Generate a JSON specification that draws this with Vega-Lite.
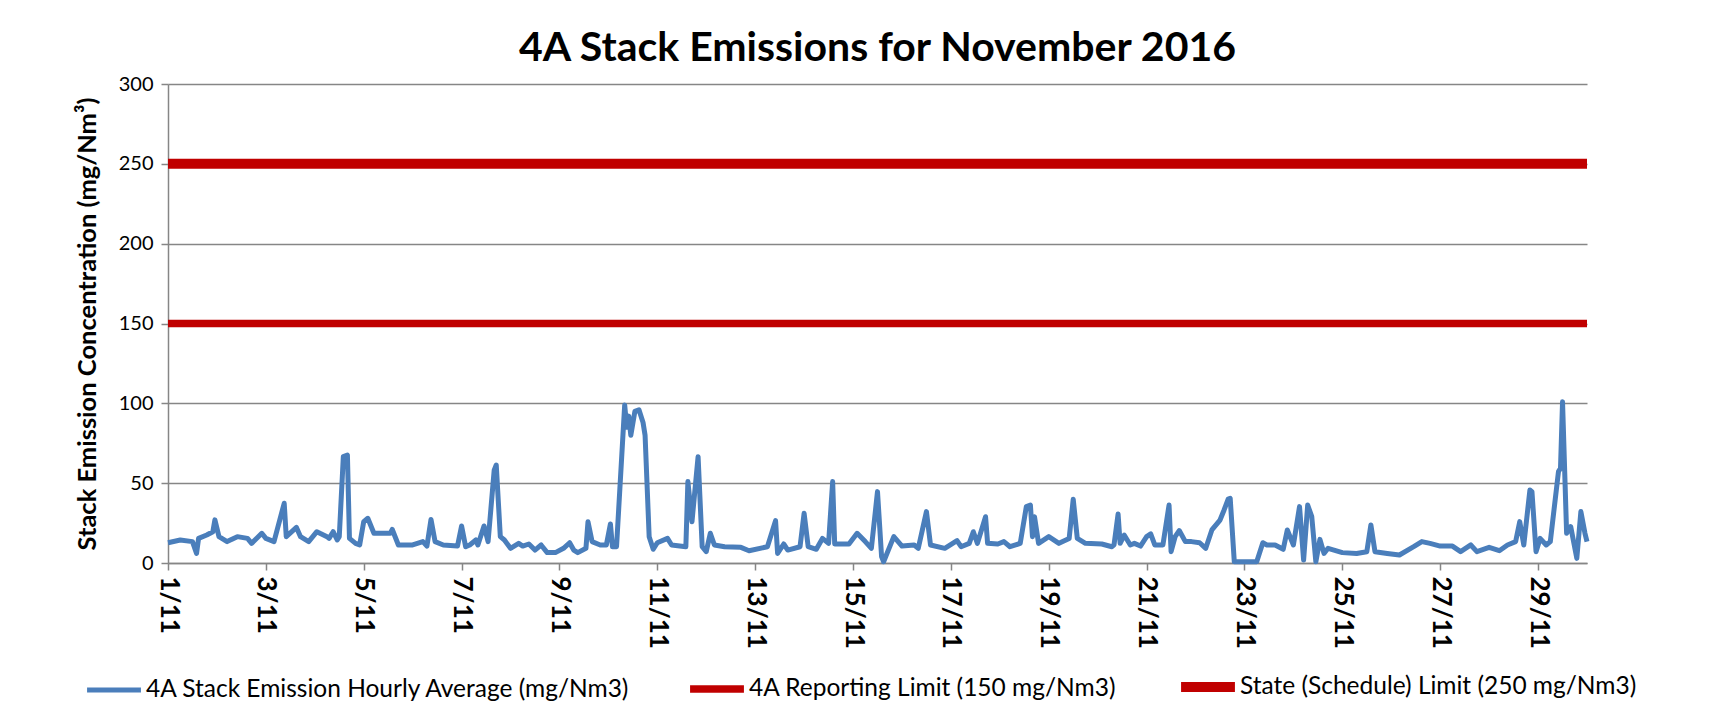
{
  "$schema": "https://vega.github.io/schema/vega-lite/v6.json",
  "width": 1419,
  "height": 479,
  "autosize": {"type": "none"},
  "padding": {"left": 168, "top": 84, "right": 143, "bottom": 150},
  "background": "white",
  "config": {
    "font": "Lato",
    "view": {"stroke": null},
    "axis": {"labelColor": "#000000", "titleColor": "#000000"}
  },
  "title": {
    "text": "4A Stack Emissions for November 2016",
    "font": "Lato",
    "fontSize": 41,
    "fontWeight": "bold",
    "color": "#000000",
    "anchor": "middle",
    "offset": 4
  },
  "data": {
    "values": [
      {"t": "2016-11-01T00:00", "v": 12.7, "series": "4A Stack Emission Hourly Average (mg/Nm3)"},
      {"t": "2016-11-01T06:00", "v": 14.4, "series": "4A Stack Emission Hourly Average (mg/Nm3)"},
      {"t": "2016-11-01T12:00", "v": 13.4, "series": "4A Stack Emission Hourly Average (mg/Nm3)"},
      {"t": "2016-11-01T14:00", "v": 6, "series": "4A Stack Emission Hourly Average (mg/Nm3)"},
      {"t": "2016-11-01T15:00", "v": 15.4, "series": "4A Stack Emission Hourly Average (mg/Nm3)"},
      {"t": "2016-11-01T19:00", "v": 17.5, "series": "4A Stack Emission Hourly Average (mg/Nm3)"},
      {"t": "2016-11-01T22:00", "v": 19.6, "series": "4A Stack Emission Hourly Average (mg/Nm3)"},
      {"t": "2016-11-01T23:00", "v": 27, "series": "4A Stack Emission Hourly Average (mg/Nm3)"},
      {"t": "2016-11-02T01:00", "v": 16.5, "series": "4A Stack Emission Hourly Average (mg/Nm3)"},
      {"t": "2016-11-02T05:00", "v": 13.4, "series": "4A Stack Emission Hourly Average (mg/Nm3)"},
      {"t": "2016-11-02T10:00", "v": 16.5, "series": "4A Stack Emission Hourly Average (mg/Nm3)"},
      {"t": "2016-11-02T15:00", "v": 15.4, "series": "4A Stack Emission Hourly Average (mg/Nm3)"},
      {"t": "2016-11-02T17:00", "v": 12.3, "series": "4A Stack Emission Hourly Average (mg/Nm3)"},
      {"t": "2016-11-02T22:00", "v": 18.6, "series": "4A Stack Emission Hourly Average (mg/Nm3)"},
      {"t": "2016-11-03T00:00", "v": 15.4, "series": "4A Stack Emission Hourly Average (mg/Nm3)"},
      {"t": "2016-11-03T04:00", "v": 13.4, "series": "4A Stack Emission Hourly Average (mg/Nm3)"},
      {"t": "2016-11-03T09:00", "v": 37.4, "series": "4A Stack Emission Hourly Average (mg/Nm3)"},
      {"t": "2016-11-03T10:00", "v": 16.5, "series": "4A Stack Emission Hourly Average (mg/Nm3)"},
      {"t": "2016-11-03T15:00", "v": 22.3, "series": "4A Stack Emission Hourly Average (mg/Nm3)"},
      {"t": "2016-11-03T17:00", "v": 16.5, "series": "4A Stack Emission Hourly Average (mg/Nm3)"},
      {"t": "2016-11-03T21:00", "v": 13.4, "series": "4A Stack Emission Hourly Average (mg/Nm3)"},
      {"t": "2016-11-04T01:00", "v": 19.6, "series": "4A Stack Emission Hourly Average (mg/Nm3)"},
      {"t": "2016-11-04T06:00", "v": 16.5, "series": "4A Stack Emission Hourly Average (mg/Nm3)"},
      {"t": "2016-11-04T07:00", "v": 15.4, "series": "4A Stack Emission Hourly Average (mg/Nm3)"},
      {"t": "2016-11-04T09:00", "v": 19.6, "series": "4A Stack Emission Hourly Average (mg/Nm3)"},
      {"t": "2016-11-04T11:00", "v": 14.4, "series": "4A Stack Emission Hourly Average (mg/Nm3)"},
      {"t": "2016-11-04T12:00", "v": 16.5, "series": "4A Stack Emission Hourly Average (mg/Nm3)"},
      {"t": "2016-11-04T14:00", "v": 66.6, "series": "4A Stack Emission Hourly Average (mg/Nm3)"},
      {"t": "2016-11-04T16:00", "v": 67.6, "series": "4A Stack Emission Hourly Average (mg/Nm3)"},
      {"t": "2016-11-04T17:00", "v": 15.4, "series": "4A Stack Emission Hourly Average (mg/Nm3)"},
      {"t": "2016-11-04T20:00", "v": 12.3, "series": "4A Stack Emission Hourly Average (mg/Nm3)"},
      {"t": "2016-11-04T22:00", "v": 11.3, "series": "4A Stack Emission Hourly Average (mg/Nm3)"},
      {"t": "2016-11-05T00:00", "v": 25.9, "series": "4A Stack Emission Hourly Average (mg/Nm3)"},
      {"t": "2016-11-05T02:00", "v": 28, "series": "4A Stack Emission Hourly Average (mg/Nm3)"},
      {"t": "2016-11-05T05:00", "v": 18.6, "series": "4A Stack Emission Hourly Average (mg/Nm3)"},
      {"t": "2016-11-05T13:00", "v": 18.6, "series": "4A Stack Emission Hourly Average (mg/Nm3)"},
      {"t": "2016-11-05T14:00", "v": 21, "series": "4A Stack Emission Hourly Average (mg/Nm3)"},
      {"t": "2016-11-05T17:00", "v": 11.3, "series": "4A Stack Emission Hourly Average (mg/Nm3)"},
      {"t": "2016-11-06T00:00", "v": 11.3, "series": "4A Stack Emission Hourly Average (mg/Nm3)"},
      {"t": "2016-11-06T05:00", "v": 13.4, "series": "4A Stack Emission Hourly Average (mg/Nm3)"},
      {"t": "2016-11-06T07:00", "v": 10.6, "series": "4A Stack Emission Hourly Average (mg/Nm3)"},
      {"t": "2016-11-06T09:00", "v": 27.3, "series": "4A Stack Emission Hourly Average (mg/Nm3)"},
      {"t": "2016-11-06T11:00", "v": 13.4, "series": "4A Stack Emission Hourly Average (mg/Nm3)"},
      {"t": "2016-11-06T15:00", "v": 11.3, "series": "4A Stack Emission Hourly Average (mg/Nm3)"},
      {"t": "2016-11-06T22:00", "v": 10.6, "series": "4A Stack Emission Hourly Average (mg/Nm3)"},
      {"t": "2016-11-07T00:00", "v": 23.2, "series": "4A Stack Emission Hourly Average (mg/Nm3)"},
      {"t": "2016-11-07T02:00", "v": 10.2, "series": "4A Stack Emission Hourly Average (mg/Nm3)"},
      {"t": "2016-11-07T04:00", "v": 11.3, "series": "4A Stack Emission Hourly Average (mg/Nm3)"},
      {"t": "2016-11-07T07:00", "v": 14.4, "series": "4A Stack Emission Hourly Average (mg/Nm3)"},
      {"t": "2016-11-07T08:00", "v": 11.3, "series": "4A Stack Emission Hourly Average (mg/Nm3)"},
      {"t": "2016-11-07T11:00", "v": 23.2, "series": "4A Stack Emission Hourly Average (mg/Nm3)"},
      {"t": "2016-11-07T13:00", "v": 13.4, "series": "4A Stack Emission Hourly Average (mg/Nm3)"},
      {"t": "2016-11-07T16:00", "v": 58.2, "series": "4A Stack Emission Hourly Average (mg/Nm3)"},
      {"t": "2016-11-07T17:00", "v": 61.4, "series": "4A Stack Emission Hourly Average (mg/Nm3)"},
      {"t": "2016-11-07T19:00", "v": 16.5, "series": "4A Stack Emission Hourly Average (mg/Nm3)"},
      {"t": "2016-11-07T21:00", "v": 14.4, "series": "4A Stack Emission Hourly Average (mg/Nm3)"},
      {"t": "2016-11-08T00:00", "v": 9.2, "series": "4A Stack Emission Hourly Average (mg/Nm3)"},
      {"t": "2016-11-08T04:00", "v": 12.3, "series": "4A Stack Emission Hourly Average (mg/Nm3)"},
      {"t": "2016-11-08T06:00", "v": 10.6, "series": "4A Stack Emission Hourly Average (mg/Nm3)"},
      {"t": "2016-11-08T09:00", "v": 11.9, "series": "4A Stack Emission Hourly Average (mg/Nm3)"},
      {"t": "2016-11-08T12:00", "v": 8.1, "series": "4A Stack Emission Hourly Average (mg/Nm3)"},
      {"t": "2016-11-08T15:00", "v": 11.3, "series": "4A Stack Emission Hourly Average (mg/Nm3)"},
      {"t": "2016-11-08T18:00", "v": 6.5, "series": "4A Stack Emission Hourly Average (mg/Nm3)"},
      {"t": "2016-11-08T22:00", "v": 6.5, "series": "4A Stack Emission Hourly Average (mg/Nm3)"},
      {"t": "2016-11-09T02:00", "v": 9.2, "series": "4A Stack Emission Hourly Average (mg/Nm3)"},
      {"t": "2016-11-09T05:00", "v": 12.7, "series": "4A Stack Emission Hourly Average (mg/Nm3)"},
      {"t": "2016-11-09T07:00", "v": 8.1, "series": "4A Stack Emission Hourly Average (mg/Nm3)"},
      {"t": "2016-11-09T09:00", "v": 6.5, "series": "4A Stack Emission Hourly Average (mg/Nm3)"},
      {"t": "2016-11-09T13:00", "v": 9.2, "series": "4A Stack Emission Hourly Average (mg/Nm3)"},
      {"t": "2016-11-09T14:00", "v": 25.9, "series": "4A Stack Emission Hourly Average (mg/Nm3)"},
      {"t": "2016-11-09T16:00", "v": 13.4, "series": "4A Stack Emission Hourly Average (mg/Nm3)"},
      {"t": "2016-11-09T20:00", "v": 11.3, "series": "4A Stack Emission Hourly Average (mg/Nm3)"},
      {"t": "2016-11-09T23:00", "v": 11.3, "series": "4A Stack Emission Hourly Average (mg/Nm3)"},
      {"t": "2016-11-10T01:00", "v": 24.4, "series": "4A Stack Emission Hourly Average (mg/Nm3)"},
      {"t": "2016-11-10T02:00", "v": 10.2, "series": "4A Stack Emission Hourly Average (mg/Nm3)"},
      {"t": "2016-11-10T04:00", "v": 10.2, "series": "4A Stack Emission Hourly Average (mg/Nm3)"},
      {"t": "2016-11-10T08:00", "v": 99, "series": "4A Stack Emission Hourly Average (mg/Nm3)"},
      {"t": "2016-11-10T09:00", "v": 85, "series": "4A Stack Emission Hourly Average (mg/Nm3)"},
      {"t": "2016-11-10T10:00", "v": 92, "series": "4A Stack Emission Hourly Average (mg/Nm3)"},
      {"t": "2016-11-10T11:00", "v": 80, "series": "4A Stack Emission Hourly Average (mg/Nm3)"},
      {"t": "2016-11-10T13:00", "v": 95, "series": "4A Stack Emission Hourly Average (mg/Nm3)"},
      {"t": "2016-11-10T15:00", "v": 96, "series": "4A Stack Emission Hourly Average (mg/Nm3)"},
      {"t": "2016-11-10T17:00", "v": 88, "series": "4A Stack Emission Hourly Average (mg/Nm3)"},
      {"t": "2016-11-10T18:00", "v": 80, "series": "4A Stack Emission Hourly Average (mg/Nm3)"},
      {"t": "2016-11-10T20:00", "v": 16.5, "series": "4A Stack Emission Hourly Average (mg/Nm3)"},
      {"t": "2016-11-10T22:00", "v": 8.6, "series": "4A Stack Emission Hourly Average (mg/Nm3)"},
      {"t": "2016-11-11T00:00", "v": 12.7, "series": "4A Stack Emission Hourly Average (mg/Nm3)"},
      {"t": "2016-11-11T05:00", "v": 15.4, "series": "4A Stack Emission Hourly Average (mg/Nm3)"},
      {"t": "2016-11-11T07:00", "v": 11.3, "series": "4A Stack Emission Hourly Average (mg/Nm3)"},
      {"t": "2016-11-11T14:00", "v": 10.2, "series": "4A Stack Emission Hourly Average (mg/Nm3)"},
      {"t": "2016-11-11T15:00", "v": 51, "series": "4A Stack Emission Hourly Average (mg/Nm3)"},
      {"t": "2016-11-11T17:00", "v": 25.9, "series": "4A Stack Emission Hourly Average (mg/Nm3)"},
      {"t": "2016-11-11T20:00", "v": 66.6, "series": "4A Stack Emission Hourly Average (mg/Nm3)"},
      {"t": "2016-11-11T22:00", "v": 10.2, "series": "4A Stack Emission Hourly Average (mg/Nm3)"},
      {"t": "2016-11-12T00:00", "v": 7.1, "series": "4A Stack Emission Hourly Average (mg/Nm3)"},
      {"t": "2016-11-12T02:00", "v": 18.6, "series": "4A Stack Emission Hourly Average (mg/Nm3)"},
      {"t": "2016-11-12T04:00", "v": 11.3, "series": "4A Stack Emission Hourly Average (mg/Nm3)"},
      {"t": "2016-11-12T09:00", "v": 10.2, "series": "4A Stack Emission Hourly Average (mg/Nm3)"},
      {"t": "2016-11-12T17:00", "v": 9.8, "series": "4A Stack Emission Hourly Average (mg/Nm3)"},
      {"t": "2016-11-12T21:00", "v": 7.7, "series": "4A Stack Emission Hourly Average (mg/Nm3)"},
      {"t": "2016-11-13T06:00", "v": 10.2, "series": "4A Stack Emission Hourly Average (mg/Nm3)"},
      {"t": "2016-11-13T10:00", "v": 26.5, "series": "4A Stack Emission Hourly Average (mg/Nm3)"},
      {"t": "2016-11-13T11:00", "v": 6, "series": "4A Stack Emission Hourly Average (mg/Nm3)"},
      {"t": "2016-11-13T14:00", "v": 11.9, "series": "4A Stack Emission Hourly Average (mg/Nm3)"},
      {"t": "2016-11-13T16:00", "v": 8.1, "series": "4A Stack Emission Hourly Average (mg/Nm3)"},
      {"t": "2016-11-13T22:00", "v": 10.2, "series": "4A Stack Emission Hourly Average (mg/Nm3)"},
      {"t": "2016-11-14T00:00", "v": 31.1, "series": "4A Stack Emission Hourly Average (mg/Nm3)"},
      {"t": "2016-11-14T02:00", "v": 10.2, "series": "4A Stack Emission Hourly Average (mg/Nm3)"},
      {"t": "2016-11-14T06:00", "v": 8.6, "series": "4A Stack Emission Hourly Average (mg/Nm3)"},
      {"t": "2016-11-14T09:00", "v": 15.4, "series": "4A Stack Emission Hourly Average (mg/Nm3)"},
      {"t": "2016-11-14T12:00", "v": 12.3, "series": "4A Stack Emission Hourly Average (mg/Nm3)"},
      {"t": "2016-11-14T14:00", "v": 51, "series": "4A Stack Emission Hourly Average (mg/Nm3)"},
      {"t": "2016-11-14T15:00", "v": 11.9, "series": "4A Stack Emission Hourly Average (mg/Nm3)"},
      {"t": "2016-11-14T22:00", "v": 11.9, "series": "4A Stack Emission Hourly Average (mg/Nm3)"},
      {"t": "2016-11-15T02:00", "v": 18.6, "series": "4A Stack Emission Hourly Average (mg/Nm3)"},
      {"t": "2016-11-15T06:00", "v": 13.4, "series": "4A Stack Emission Hourly Average (mg/Nm3)"},
      {"t": "2016-11-15T09:00", "v": 9.2, "series": "4A Stack Emission Hourly Average (mg/Nm3)"},
      {"t": "2016-11-15T12:00", "v": 44.7, "series": "4A Stack Emission Hourly Average (mg/Nm3)"},
      {"t": "2016-11-15T14:00", "v": 4, "series": "4A Stack Emission Hourly Average (mg/Nm3)"},
      {"t": "2016-11-15T15:00", "v": 0.8, "series": "4A Stack Emission Hourly Average (mg/Nm3)"},
      {"t": "2016-11-15T20:00", "v": 16.5, "series": "4A Stack Emission Hourly Average (mg/Nm3)"},
      {"t": "2016-11-16T00:00", "v": 10.6, "series": "4A Stack Emission Hourly Average (mg/Nm3)"},
      {"t": "2016-11-16T06:00", "v": 11.3, "series": "4A Stack Emission Hourly Average (mg/Nm3)"},
      {"t": "2016-11-16T08:00", "v": 9.2, "series": "4A Stack Emission Hourly Average (mg/Nm3)"},
      {"t": "2016-11-16T12:00", "v": 32.2, "series": "4A Stack Emission Hourly Average (mg/Nm3)"},
      {"t": "2016-11-16T14:00", "v": 11.3, "series": "4A Stack Emission Hourly Average (mg/Nm3)"},
      {"t": "2016-11-16T21:00", "v": 9.2, "series": "4A Stack Emission Hourly Average (mg/Nm3)"},
      {"t": "2016-11-17T03:00", "v": 14, "series": "4A Stack Emission Hourly Average (mg/Nm3)"},
      {"t": "2016-11-17T05:00", "v": 10.2, "series": "4A Stack Emission Hourly Average (mg/Nm3)"},
      {"t": "2016-11-17T09:00", "v": 12.3, "series": "4A Stack Emission Hourly Average (mg/Nm3)"},
      {"t": "2016-11-17T11:00", "v": 19.6, "series": "4A Stack Emission Hourly Average (mg/Nm3)"},
      {"t": "2016-11-17T13:00", "v": 12.3, "series": "4A Stack Emission Hourly Average (mg/Nm3)"},
      {"t": "2016-11-17T17:00", "v": 29, "series": "4A Stack Emission Hourly Average (mg/Nm3)"},
      {"t": "2016-11-17T18:00", "v": 12.3, "series": "4A Stack Emission Hourly Average (mg/Nm3)"},
      {"t": "2016-11-17T23:00", "v": 11.9, "series": "4A Stack Emission Hourly Average (mg/Nm3)"},
      {"t": "2016-11-18T02:00", "v": 13.4, "series": "4A Stack Emission Hourly Average (mg/Nm3)"},
      {"t": "2016-11-18T05:00", "v": 10.2, "series": "4A Stack Emission Hourly Average (mg/Nm3)"},
      {"t": "2016-11-18T10:00", "v": 12.3, "series": "4A Stack Emission Hourly Average (mg/Nm3)"},
      {"t": "2016-11-18T13:00", "v": 35.3, "series": "4A Stack Emission Hourly Average (mg/Nm3)"},
      {"t": "2016-11-18T15:00", "v": 36.3, "series": "4A Stack Emission Hourly Average (mg/Nm3)"},
      {"t": "2016-11-18T16:00", "v": 16.5, "series": "4A Stack Emission Hourly Average (mg/Nm3)"},
      {"t": "2016-11-18T17:00", "v": 29, "series": "4A Stack Emission Hourly Average (mg/Nm3)"},
      {"t": "2016-11-18T19:00", "v": 12.3, "series": "4A Stack Emission Hourly Average (mg/Nm3)"},
      {"t": "2016-11-19T00:00", "v": 16.5, "series": "4A Stack Emission Hourly Average (mg/Nm3)"},
      {"t": "2016-11-19T05:00", "v": 12.3, "series": "4A Stack Emission Hourly Average (mg/Nm3)"},
      {"t": "2016-11-19T10:00", "v": 15.4, "series": "4A Stack Emission Hourly Average (mg/Nm3)"},
      {"t": "2016-11-19T12:00", "v": 39.9, "series": "4A Stack Emission Hourly Average (mg/Nm3)"},
      {"t": "2016-11-19T14:00", "v": 15.4, "series": "4A Stack Emission Hourly Average (mg/Nm3)"},
      {"t": "2016-11-19T18:00", "v": 12.3, "series": "4A Stack Emission Hourly Average (mg/Nm3)"},
      {"t": "2016-11-20T02:00", "v": 11.9, "series": "4A Stack Emission Hourly Average (mg/Nm3)"},
      {"t": "2016-11-20T07:00", "v": 10.2, "series": "4A Stack Emission Hourly Average (mg/Nm3)"},
      {"t": "2016-11-20T08:00", "v": 11.3, "series": "4A Stack Emission Hourly Average (mg/Nm3)"},
      {"t": "2016-11-20T10:00", "v": 30.7, "series": "4A Stack Emission Hourly Average (mg/Nm3)"},
      {"t": "2016-11-20T11:00", "v": 12.3, "series": "4A Stack Emission Hourly Average (mg/Nm3)"},
      {"t": "2016-11-20T13:00", "v": 17.5, "series": "4A Stack Emission Hourly Average (mg/Nm3)"},
      {"t": "2016-11-20T16:00", "v": 11.3, "series": "4A Stack Emission Hourly Average (mg/Nm3)"},
      {"t": "2016-11-20T18:00", "v": 12.3, "series": "4A Stack Emission Hourly Average (mg/Nm3)"},
      {"t": "2016-11-20T21:00", "v": 10.6, "series": "4A Stack Emission Hourly Average (mg/Nm3)"},
      {"t": "2016-11-21T00:00", "v": 16.5, "series": "4A Stack Emission Hourly Average (mg/Nm3)"},
      {"t": "2016-11-21T02:00", "v": 18.2, "series": "4A Stack Emission Hourly Average (mg/Nm3)"},
      {"t": "2016-11-21T04:00", "v": 11.3, "series": "4A Stack Emission Hourly Average (mg/Nm3)"},
      {"t": "2016-11-21T08:00", "v": 11.3, "series": "4A Stack Emission Hourly Average (mg/Nm3)"},
      {"t": "2016-11-21T11:00", "v": 36.3, "series": "4A Stack Emission Hourly Average (mg/Nm3)"},
      {"t": "2016-11-21T12:00", "v": 7.1, "series": "4A Stack Emission Hourly Average (mg/Nm3)"},
      {"t": "2016-11-21T14:00", "v": 16.5, "series": "4A Stack Emission Hourly Average (mg/Nm3)"},
      {"t": "2016-11-21T16:00", "v": 20.3, "series": "4A Stack Emission Hourly Average (mg/Nm3)"},
      {"t": "2016-11-21T19:00", "v": 13.4, "series": "4A Stack Emission Hourly Average (mg/Nm3)"},
      {"t": "2016-11-21T22:00", "v": 13.4, "series": "4A Stack Emission Hourly Average (mg/Nm3)"},
      {"t": "2016-11-22T02:00", "v": 12.7, "series": "4A Stack Emission Hourly Average (mg/Nm3)"},
      {"t": "2016-11-22T05:00", "v": 9.2, "series": "4A Stack Emission Hourly Average (mg/Nm3)"},
      {"t": "2016-11-22T08:00", "v": 20.7, "series": "4A Stack Emission Hourly Average (mg/Nm3)"},
      {"t": "2016-11-22T12:00", "v": 26.9, "series": "4A Stack Emission Hourly Average (mg/Nm3)"},
      {"t": "2016-11-22T14:00", "v": 33.2, "series": "4A Stack Emission Hourly Average (mg/Nm3)"},
      {"t": "2016-11-22T16:00", "v": 40, "series": "4A Stack Emission Hourly Average (mg/Nm3)"},
      {"t": "2016-11-22T17:00", "v": 40.5, "series": "4A Stack Emission Hourly Average (mg/Nm3)"},
      {"t": "2016-11-22T19:00", "v": 0.8, "series": "4A Stack Emission Hourly Average (mg/Nm3)"},
      {"t": "2016-11-23T06:00", "v": 0.8, "series": "4A Stack Emission Hourly Average (mg/Nm3)"},
      {"t": "2016-11-23T09:00", "v": 12.7, "series": "4A Stack Emission Hourly Average (mg/Nm3)"},
      {"t": "2016-11-23T11:00", "v": 11.3, "series": "4A Stack Emission Hourly Average (mg/Nm3)"},
      {"t": "2016-11-23T15:00", "v": 11.3, "series": "4A Stack Emission Hourly Average (mg/Nm3)"},
      {"t": "2016-11-23T19:00", "v": 8.6, "series": "4A Stack Emission Hourly Average (mg/Nm3)"},
      {"t": "2016-11-23T21:00", "v": 20.7, "series": "4A Stack Emission Hourly Average (mg/Nm3)"},
      {"t": "2016-11-24T00:00", "v": 11.3, "series": "4A Stack Emission Hourly Average (mg/Nm3)"},
      {"t": "2016-11-24T03:00", "v": 35.3, "series": "4A Stack Emission Hourly Average (mg/Nm3)"},
      {"t": "2016-11-24T05:00", "v": 1.9, "series": "4A Stack Emission Hourly Average (mg/Nm3)"},
      {"t": "2016-11-24T07:00", "v": 36.3, "series": "4A Stack Emission Hourly Average (mg/Nm3)"},
      {"t": "2016-11-24T09:00", "v": 29, "series": "4A Stack Emission Hourly Average (mg/Nm3)"},
      {"t": "2016-11-24T11:00", "v": 0.8, "series": "4A Stack Emission Hourly Average (mg/Nm3)"},
      {"t": "2016-11-24T13:00", "v": 14.8, "series": "4A Stack Emission Hourly Average (mg/Nm3)"},
      {"t": "2016-11-24T15:00", "v": 6, "series": "4A Stack Emission Hourly Average (mg/Nm3)"},
      {"t": "2016-11-24T17:00", "v": 9.2, "series": "4A Stack Emission Hourly Average (mg/Nm3)"},
      {"t": "2016-11-25T00:00", "v": 6.5, "series": "4A Stack Emission Hourly Average (mg/Nm3)"},
      {"t": "2016-11-25T07:00", "v": 6, "series": "4A Stack Emission Hourly Average (mg/Nm3)"},
      {"t": "2016-11-25T12:00", "v": 7.1, "series": "4A Stack Emission Hourly Average (mg/Nm3)"},
      {"t": "2016-11-25T14:00", "v": 23.8, "series": "4A Stack Emission Hourly Average (mg/Nm3)"},
      {"t": "2016-11-25T16:00", "v": 7.1, "series": "4A Stack Emission Hourly Average (mg/Nm3)"},
      {"t": "2016-11-25T22:00", "v": 6, "series": "4A Stack Emission Hourly Average (mg/Nm3)"},
      {"t": "2016-11-26T04:00", "v": 5, "series": "4A Stack Emission Hourly Average (mg/Nm3)"},
      {"t": "2016-11-26T11:00", "v": 10.2, "series": "4A Stack Emission Hourly Average (mg/Nm3)"},
      {"t": "2016-11-26T15:00", "v": 13.4, "series": "4A Stack Emission Hourly Average (mg/Nm3)"},
      {"t": "2016-11-26T19:00", "v": 12.3, "series": "4A Stack Emission Hourly Average (mg/Nm3)"},
      {"t": "2016-11-27T00:00", "v": 10.6, "series": "4A Stack Emission Hourly Average (mg/Nm3)"},
      {"t": "2016-11-27T06:00", "v": 10.6, "series": "4A Stack Emission Hourly Average (mg/Nm3)"},
      {"t": "2016-11-27T10:00", "v": 7.1, "series": "4A Stack Emission Hourly Average (mg/Nm3)"},
      {"t": "2016-11-27T15:00", "v": 11.3, "series": "4A Stack Emission Hourly Average (mg/Nm3)"},
      {"t": "2016-11-27T18:00", "v": 7.1, "series": "4A Stack Emission Hourly Average (mg/Nm3)"},
      {"t": "2016-11-28T00:00", "v": 9.8, "series": "4A Stack Emission Hourly Average (mg/Nm3)"},
      {"t": "2016-11-28T05:00", "v": 7.7, "series": "4A Stack Emission Hourly Average (mg/Nm3)"},
      {"t": "2016-11-28T09:00", "v": 11.3, "series": "4A Stack Emission Hourly Average (mg/Nm3)"},
      {"t": "2016-11-28T13:00", "v": 13.4, "series": "4A Stack Emission Hourly Average (mg/Nm3)"},
      {"t": "2016-11-28T15:00", "v": 25.9, "series": "4A Stack Emission Hourly Average (mg/Nm3)"},
      {"t": "2016-11-28T17:00", "v": 11.3, "series": "4A Stack Emission Hourly Average (mg/Nm3)"},
      {"t": "2016-11-28T20:00", "v": 45.7, "series": "4A Stack Emission Hourly Average (mg/Nm3)"},
      {"t": "2016-11-28T21:00", "v": 44.7, "series": "4A Stack Emission Hourly Average (mg/Nm3)"},
      {"t": "2016-11-28T23:00", "v": 7.1, "series": "4A Stack Emission Hourly Average (mg/Nm3)"},
      {"t": "2016-11-29T01:00", "v": 15.4, "series": "4A Stack Emission Hourly Average (mg/Nm3)"},
      {"t": "2016-11-29T04:00", "v": 11.3, "series": "4A Stack Emission Hourly Average (mg/Nm3)"},
      {"t": "2016-11-29T06:00", "v": 13.4, "series": "4A Stack Emission Hourly Average (mg/Nm3)"},
      {"t": "2016-11-29T10:00", "v": 57.2, "series": "4A Stack Emission Hourly Average (mg/Nm3)"},
      {"t": "2016-11-29T11:00", "v": 59.3, "series": "4A Stack Emission Hourly Average (mg/Nm3)"},
      {"t": "2016-11-29T12:00", "v": 101, "series": "4A Stack Emission Hourly Average (mg/Nm3)"},
      {"t": "2016-11-29T14:00", "v": 18.6, "series": "4A Stack Emission Hourly Average (mg/Nm3)"},
      {"t": "2016-11-29T16:00", "v": 22.8, "series": "4A Stack Emission Hourly Average (mg/Nm3)"},
      {"t": "2016-11-29T19:00", "v": 2.9, "series": "4A Stack Emission Hourly Average (mg/Nm3)"},
      {"t": "2016-11-29T21:00", "v": 32.2, "series": "4A Stack Emission Hourly Average (mg/Nm3)"},
      {"t": "2016-11-29T23:00", "v": 18.6, "series": "4A Stack Emission Hourly Average (mg/Nm3)"},
      {"t": "2016-11-30T00:00", "v": 13.4, "series": "4A Stack Emission Hourly Average (mg/Nm3)"},
      {"t": "2016-11-01T00:00", "v": 150, "series": "4A Reporting Limit (150 mg/Nm3)"},
      {"t": "2016-11-30T00:00", "v": 150, "series": "4A Reporting Limit (150 mg/Nm3)"},
      {"t": "2016-11-01T00:00", "v": 250, "series": "State (Schedule) Limit (250 mg/Nm3)"},
      {"t": "2016-11-30T00:00", "v": 250, "series": "State (Schedule) Limit (250 mg/Nm3)"}
    ]
  },
  "mark": {"type": "line", "strokeCap": "butt", "strokeJoin": "round"},
  "encoding": {
    "x": {
      "field": "t",
      "type": "temporal",
      "scale": {"domain": ["2016-11-01T00:00", "2016-11-30T00:00"], "nice": false},
      "axis": {
        "title": null,
        "values": ["2016-11-01T00:00", "2016-11-03T00:00", "2016-11-05T00:00", "2016-11-07T00:00", "2016-11-09T00:00", "2016-11-11T00:00", "2016-11-13T00:00", "2016-11-15T00:00", "2016-11-17T00:00", "2016-11-19T00:00", "2016-11-21T00:00", "2016-11-23T00:00", "2016-11-25T00:00", "2016-11-27T00:00", "2016-11-29T00:00"],
        "format": "%-d/%-m",
        "labelAngle": 90,
        "labelFontSize": 26,
        "labelFontWeight": "bold",
        "labelPadding": 6,
        "labelOverlap": false,
        "labelFlush": false,
        "grid": false,
        "domainColor": "#868686",
        "domainWidth": 1.5,
        "tickColor": "#868686",
        "tickWidth": 1.5,
        "tickSize": 7
      }
    },
    "y": {
      "field": "v",
      "type": "quantitative",
      "scale": {"domain": [0, 300], "nice": false},
      "axis": {
        "title": "Stack Emission Concentration (mg/Nm³)",
        "titleFontSize": 25.5,
        "titleFontWeight": "bold",
        "titlePadding": 18,
        "values": [0, 50, 100, 150, 200, 250, 300],
        "labelFontSize": 20,
        "labelPadding": 8,
        "grid": true,
        "gridColor": "#868686",
        "gridWidth": 1.5,
        "domainColor": "#868686",
        "domainWidth": 1.5,
        "tickColor": "#868686",
        "tickWidth": 1.5,
        "tickSize": 7
      }
    },
    "detail": {"field": "series"},
    "color": {
      "field": "series",
      "type": "nominal",
      "scale": {
        "domain": ["4A Stack Emission Hourly Average (mg/Nm3)", "4A Reporting Limit (150 mg/Nm3)", "State (Schedule) Limit (250 mg/Nm3)"],
        "range": ["#4A7EBB", "#C00000", "#C00000"]
      },
      "legend": {
        "title": null,
        "orient": "none",
        "legendX": -86,
        "legendY": 571,
        "direction": "horizontal",
        "columns": 3,
        "columnPadding": 44,
        "symbolType": "stroke",
        "symbolSize": 2900,
        "labelFontSize": 24.5,
        "labelLimit": 0,
        "labelColor": "#000000",
        "labelOffset": 0,
        "padding": 0
      }
    },
    "strokeWidth": {
      "field": "series",
      "type": "nominal",
      "scale": {
        "domain": ["4A Stack Emission Hourly Average (mg/Nm3)", "4A Reporting Limit (150 mg/Nm3)", "State (Schedule) Limit (250 mg/Nm3)"],
        "range": [5, 10, 10]
      },
      "legend": null
    }
  }
}
